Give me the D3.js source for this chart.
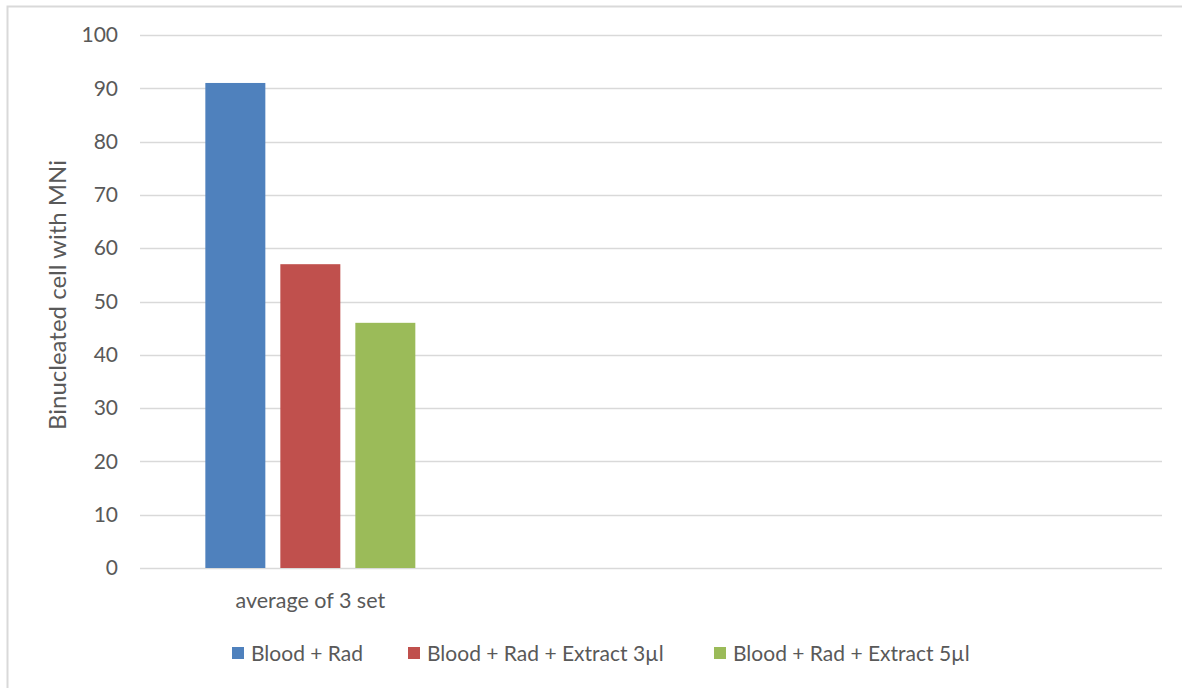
<!DOCTYPE html>
<html>
<head>
<meta charset="utf-8">
<script src="https://cdn.jsdelivr.net/npm/d3@7"></script>
<style>
  html, body { margin: 0; padding: 0; background: #fff; }
  svg { display: block; font-family: "Lato", "Open Sans", sans-serif; }
</style>
</head>
<body>
<svg id="chart" width="1182" height="688"></svg>
<script>
// Categories on the x axis (two trailing slots are empty in the source sheet)
const categories = ["average of 3 set", " ", "  "];
const seriesNames = ["Blood + Rad", "Blood + Rad + Extract 3µl", "Blood + Rad + Extract 5µl"];
const seriesColors = ["#4f81bd", "#c0504d", "#9bbb59"];
// Values per series, one entry per category
const bloodRad = [91, null, null];
const extract3 = [57, null, null];
const extract5 = [46, null, null];
const yTicks = [0, 10, 20, 30, 40, 50, 60, 70, 80, 90, 100];
const yTitle = "Binucleated cell with MNi";

const seriesValues = [bloodRad, extract3, extract5];

const svg = d3.select("#chart");
const W = 1182, H = 688;
const textColor = "#595959";

// Chart frame
svg.append("rect")
  .attr("x", 7.5).attr("y", 6.5)
  .attr("width", W + 10).attr("height", H + 10)
  .attr("fill", "#fff")
  .attr("stroke", "#d9d9d9").attr("stroke-width", 2);

const plot = { left: 140, right: 1162, top: 35, bottom: 568 };

const y = d3.scaleLinear().domain([0, 100]).range([plot.bottom, plot.top]);
const x0 = d3.scaleBand().domain(categories)
  .range([plot.left, plot.right])
  .paddingInner(0.3836).paddingOuter(0.1918);
const x1 = d3.scaleBand().domain(seriesNames)
  .range([0, x0.bandwidth()])
  .paddingInner(0.2).paddingOuter(0);

// Gridlines
svg.append("g")
  .selectAll("line")
  .data(yTicks)
  .join("line")
  .attr("x1", plot.left).attr("x2", plot.right)
  .attr("y1", d => Math.round(y(d)) + 0.5).attr("y2", d => Math.round(y(d)) + 0.5)
  .attr("stroke", "#d9d9d9").attr("stroke-width", 1.5);

// Y axis tick labels
const yAxis = d3.axisLeft(y).tickValues(yTicks).tickSize(0).tickPadding(0);
const yg = svg.append("g")
  .attr("transform", `translate(118,0)`)
  .call(yAxis);
yg.select(".domain").remove();
yg.selectAll("text")
  .attr("fill", textColor)
  .style("font-size", "21px")
  .style("font-family", "Lato, 'Open Sans', sans-serif");

// Bars
const groups = svg.append("g")
  .selectAll("g")
  .data(categories)
  .join("g")
  .attr("transform", d => `translate(${x0(d)},0)`);

groups.selectAll("rect")
  .data((c, ci) => seriesNames.map((s, si) => ({ s, si, v: seriesValues[si][ci] })).filter(d => d.v != null))
  .join("rect")
  .attr("x", d => x1(d.s))
  .attr("width", x1.bandwidth())
  .attr("y", d => y(d.v))
  .attr("height", d => y(0) - y(d.v))
  .attr("fill", d => seriesColors[d.si]);

// Category axis labels
const xAxis = d3.axisBottom(x0).tickSize(0).tickPadding(0);
const xg = svg.append("g")
  .attr("transform", `translate(0,${plot.bottom + 40})`)
  .call(xAxis);
xg.select(".domain").remove();
xg.selectAll("text")
  .attr("fill", textColor)
  .attr("dy", "0")
  .style("font-size", "21.5px")
  .style("font-family", "Lato, 'Open Sans', sans-serif");

// Y axis title
svg.append("text")
  .attr("transform", `translate(66,295) rotate(-90)`)
  .attr("text-anchor", "middle")
  .attr("fill", textColor)
  .style("font-size", "24px")
  .text(yTitle);

// Legend
const legendX = [232, 408, 714];
const legend = svg.append("g")
  .selectAll("g")
  .data(seriesNames)
  .join("g")
  .attr("transform", (d, i) => `translate(${legendX[i]},647)`);
legend.append("rect")
  .attr("width", 12).attr("height", 12)
  .attr("fill", (d, i) => seriesColors[i]);
legend.append("text")
  .attr("x", 19).attr("y", 14)
  .attr("fill", textColor)
  .style("font-size", "21px")
  .text(d => d);
</script>
</body>
</html>
